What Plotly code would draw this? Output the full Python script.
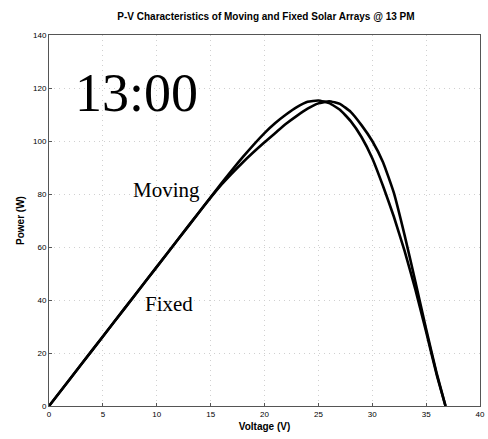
import plotly.graph_objects as go

# P-V data for the two arrays at 13:00
voltage = [0, 2, 4, 6, 8, 10, 12, 14, 16, 18, 20, 21, 22, 23, 24, 25, 26, 27,
           28, 29, 30, 31, 32, 33, 34, 35, 36, 36.8]
power_moving = [0, 10.5, 21, 31.5, 42, 52.5, 63, 73.5, 84, 94, 103, 106.8, 110,
                112.8, 114.8, 115.3, 114.3, 111.8, 107.5, 101.5, 93.5, 83, 71.5, 58.5, 44, 28, 11.5, 0]
power_fixed = [0, 10.5, 21, 31.5, 42, 52.5, 63, 73.5, 83.5, 92, 99.5, 103, 106.5,
               109.5, 112.2, 114.2, 115, 114, 111, 106, 100, 92, 80.5, 64.5, 47, 29, 12, 0]

x_ticks = [0, 5, 10, 15, 20, 25, 30, 35, 40]
y_ticks = [0, 20, 40, 60, 80, 100, 120, 140]

fig = go.Figure()
for name, p in [("Moving", power_moving), ("Fixed", power_fixed)]:
    fig.add_trace(go.Scatter(x=voltage, y=p, mode="lines", name=name,
                             line=dict(color="black", width=2.6, shape="spline", smoothing=0.4)))

axis_common = dict(
    showline=True, linecolor="#555", linewidth=1, mirror=True,
    ticks="inside", ticklen=3, tickcolor="#555",
    showgrid=True, gridcolor="#d0d0d0", griddash="1px,4px", gridwidth=1,
    zeroline=False, ticklabeloverflow="allow",
    tickfont=dict(family="Arial", size=8, color="black"),
)

fig.update_layout(
    width=488, height=439,
    margin=dict(l=49, r=3, t=35, b=33),
    paper_bgcolor="white", plot_bgcolor="white",
    showlegend=False,
    title=dict(text="<b>P-V Characteristics of Moving and Fixed Solar Arrays @ 13 PM</b>",
               x=0.545, xanchor="center", y=0.962, yanchor="middle",
               font=dict(family="Arial", size=10, color="black")),
    xaxis=dict(range=[0, 40], tickvals=x_ticks,
               title=dict(text="<b>Voltage (V)</b>", font=dict(family="Arial", size=10, color="black"), standoff=5),
               **axis_common),
    yaxis=dict(range=[0, 140], tickvals=y_ticks,
               title=dict(text="<b>Power (W)</b>", font=dict(family="Arial", size=10, color="black"), standoff=6),
               **axis_common),
)

fig.add_annotation(x=8.1, y=118, text="13:00", showarrow=False,
                   font=dict(family="Liberation Serif", size=54, color="black"))
fig.add_annotation(x=10.9, y=81.5, text="Moving", showarrow=False,
                   font=dict(family="Liberation Serif", size=21, color="black"))
fig.add_annotation(x=11.1, y=38.5, text="Fixed", showarrow=False,
                   font=dict(family="Liberation Serif", size=21, color="black"))

fig.write_html("out.html")
